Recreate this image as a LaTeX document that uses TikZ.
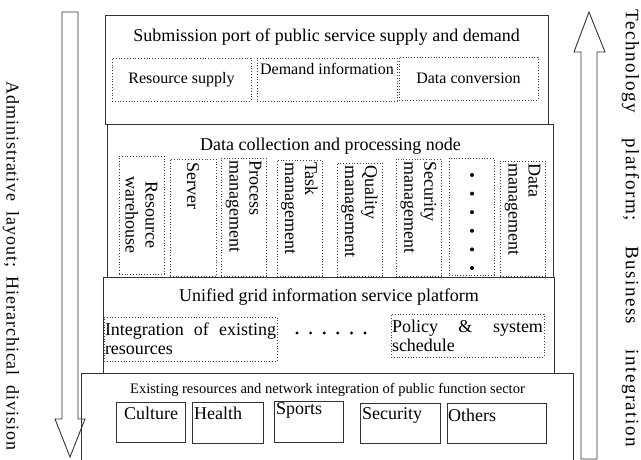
\documentclass[tikz,border=0pt]{standalone}
\usepackage{fontspec}
\setmainfont{Liberation Serif}
\newfontfamily\sidefont[LetterSpace=5]{Liberation Serif}
\newfontfamily\sidefontwide[LetterSpace=8]{Liberation Serif}
\begin{document}
\begin{tikzpicture}[x=1pt,y=-1pt,
  panel/.style={draw=black!80, line width=0.9pt, fill=white, inner sep=0pt, outer sep=0pt},
  dotbox/.style={draw=black!75, dotted, line width=0.8pt, inner sep=0pt, outer sep=0pt},
  sector/.style={draw=black!80, line width=0.9pt, inner sep=0pt, outer sep=0pt},
  bigarrow/.style={draw=black!80, line width=0.9pt, fill=white},
  title/.style={font=\fontsize{18}{20}\selectfont, inner sep=0pt},
  small/.style={font=\fontsize{16}{18}\selectfont, inner sep=0pt},
  vlabel/.style={font=\fontsize{18}{20}\selectfont, rotate=-90, inner sep=0pt, anchor=west, align=left},
  jlabel/.style={font=\fontsize{18}{19}\selectfont, inner sep=1pt, align=justify},
  seclabel/.style={font=\fontsize{18}{20}\selectfont, inner sep=0pt},
  sidelabel/.style={rotate=-90, inner sep=0pt},
  bullet/.style={fill=black, draw=none}
]
\useasboundingbox (0,0) rectangle (641,460);

% side arrows
\draw[bigarrow] (62,12) -- (78,12) -- (78,419) -- (85,419) -- (70,457) -- (55,419) -- (62,419) -- cycle;
\draw[bigarrow] (581,459) -- (581,52) -- (574,52) -- (589,12) -- (605,52) -- (597,52) -- (597,459) -- cycle;
\node[sidelabel, font=\sidefont\fontsize{18}{20}\selectfont] (lt) at (11,266) {\makebox[368pt][s]{Administrative\hfill layout;\hfill Hierarchical\hfill division}};
\node[sidelabel, font=\sidefontwide\fontsize{19}{21}\selectfont] (rt) at (630.5,228.5) {\makebox[437pt][s]{Technology\hfill platform;\hfill Business\hfill integration}};

% layer 4 outline (open at the bottom)
\draw[draw=black!80, line width=0.9pt] (81,461) -- (81,373) -- (573,373) -- (573,461);

% layer 3
\node[panel, minimum width=451pt, minimum height=96pt] (l3) at (328.5,325) {};
% layer 2
\node[panel, minimum width=446pt, minimum height=153pt] (l2) at (330,200.5) {};
% layer 1
\node[panel, minimum width=443pt, minimum height=109pt] (l1) at (326.5,69.5) {};

% layer 1 content
\node[title] (t1) at (326.5,37) {Submission port of public service supply and demand};
\node[dotbox, small, minimum width=139pt, minimum height=43pt] (rs) at (181.5,79.5) {Resource supply};
\node[dotbox, minimum width=140pt, minimum height=43pt] (di) at (327,79.5) {};
\node[small] (dit) at (327,69) {Demand information};
\node[dotbox, small, minimum width=139pt, minimum height=43pt] (dc) at (468.5,78.5) {Data conversion};

% layer 2 content
\node[title] (t2) at (330.5,146) {Data collection and processing node};
\node[dotbox, minimum width=45pt, minimum height=118pt] (rw) at (141.5,215) {};
\node[dotbox, minimum width=46pt, minimum height=117pt] (sv) at (193,217.5) {};
\node[dotbox, minimum width=45pt, minimum height=118pt] (pm) at (243.5,217) {};
\node[dotbox, minimum width=45pt, minimum height=116pt] (tm) at (299.5,218) {};
\node[dotbox, minimum width=45pt, minimum height=113pt] (qm) at (359.5,219.5) {};
\node[dotbox, minimum width=45pt, minimum height=117pt] (sm) at (418.5,217.5) {};
\node[dotbox, minimum width=45pt, minimum height=117pt] (dt) at (471.5,216.5) {};
\node[dotbox, minimum width=45pt, minimum height=115pt] (dm) at (522.5,218.5) {};

\node[vlabel, anchor=center, align=center] (rwt) at (rw) {Resource\\warehouse};
\node[vlabel] (svt) at ([yshift=-3pt]sv.north) {Server};
\node[vlabel] (pmt) at ([yshift=-2pt]pm.north) {Process\\management};
\node[vlabel] (tmt) at ([yshift=-2pt]tm.north) {Task\\management};
\node[vlabel] (qmt) at ([yshift=-2pt]qm.north) {Quality\\management};
\node[vlabel] (smt) at ([yshift=-2pt]sm.north) {Security\\management};
\node[vlabel] (dmt) at ([yshift=-2pt]dm.north) {Data\\management};
\foreach \i in {0,...,5} {
  \fill[bullet] (472,175+18.6*\i) circle (2pt);
}

% layer 3 content
\node[title] (t3) at (329,297) {Unified grid information service platform};
\node[dotbox, minimum width=173pt, minimum height=44pt] (ig) at (190.5,339) {};
\node[jlabel, text width=171pt] (igt) at (ig) {Integration of existing\linebreak resources};
\node[dotbox, minimum width=153pt, minimum height=43pt] (ps) at (467.5,335.5) {};
\node[jlabel, text width=151pt] (pst) at (ps) {Policy \& system\linebreak schedule};
\foreach \i in {0,...,5} {
  \fill[bullet] (297+13.6*\i,333) circle (1.6pt);
}

% layer 4 content
\node[font=\fontsize{14.5}{16}\selectfont, inner sep=0pt] (t4) at (327.5,390) {Existing resources and network integration of public function sector};
\node[sector, minimum width=69pt, minimum height=40pt] (cu) at (150.5,422) {};
\node[sector, minimum width=71pt, minimum height=41pt] (he) at (227.5,422.5) {};
\node[sector, minimum width=69pt, minimum height=41pt] (sp) at (308.5,421.5) {};
\node[sector, minimum width=80pt, minimum height=40pt] (se) at (400,423) {};
\node[sector, minimum width=99pt, minimum height=40pt] (ot) at (496.5,423) {};
\node[seclabel] (cut) at (151,413) {Culture};
\node[seclabel, anchor=west] (het) at (194,413) {Health};
\node[seclabel, anchor=west] (spt) at (276,410) {Sports};
\node[seclabel, anchor=west] (set) at (362,415) {Security};
\node[seclabel, anchor=west] (ott) at (448,415) {Others};
\end{tikzpicture}
\end{document}
